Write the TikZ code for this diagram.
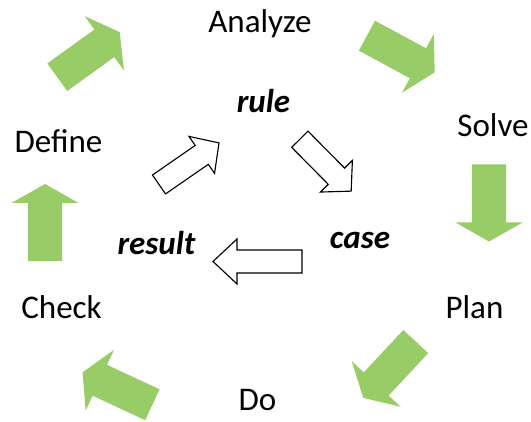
\documentclass[tikz,border=0pt]{standalone}
\usepackage{fontspec}
\setmainfont{Carlito}
\definecolor{cyclegreen}{RGB}{152, 204, 102}

% block arrow: length / shaft width / head width / head length
\tikzset{
    pics/blockarrow/.style n args={4}{code={
        \path[pic actions] (-#1/2,-#2/2) -- (#1/2-#4,-#2/2) -- (#1/2-#4,-#3/2) -- (#1/2,0)
            -- (#1/2-#4,#3/2) -- (#1/2-#4,#2/2) -- (-#1/2,#2/2) -- cycle;
    }}
}

\begin{document}
\begin{tikzpicture}[
        x=0.025cm, y=0.025cm,
        stage/.style={inner sep=0pt, anchor=base, font=\fontsize{23.5}{28}\selectfont},
        term/.style={inner sep=0pt, anchor=base, font=\fontsize{23.5}{28}\selectfont\bfseries\itshape},
        cyclearrow/.style={fill=cyclegreen},
        logicarrow/.style={draw=black, fill=white, line width=0.8pt, line join=miter}
    ]
        \useasboundingbox (0,0) rectangle (531,421);

        % Outer cycle: stages
        \node[stage] (analyze) at (260,388) {Analyze};
        \node[stage] (solve) at (493,284) {Solve};
        \node[stage] (plan) at (474.5,103) {Plan};
        \node[stage] (do) at (257.5,11) {Do};
        \node[stage] (check) at (61.5,103) {Check};
        \node[stage] (define) at (58.5,268) {Define};

        % Outer cycle: green arrows
        \pic[cyclearrow, rotate=35.8] at (88.5,366.3) {blockarrow={77}{34}{67}{19}};
        \pic[cyclearrow, rotate=-28.4] at (400.8,367) {blockarrow={77}{34}{67}{19}};
        \pic[cyclearrow, rotate=-90] at (489,218) {blockarrow={77}{34}{67}{19}};
        \pic[cyclearrow, rotate=-133] at (389.5,51.3) {blockarrow={77}{34}{67}{19}};
        \pic[cyclearrow, rotate=155] at (117.5,32.5) {blockarrow={77}{34}{67}{19}};
        \pic[cyclearrow, rotate=90] at (45,198.5) {blockarrow={77}{34}{67}{19}};

        % Inner cycle: rule, case, result
        \node[term] (rule) at (263.5,308) {rule};
        \node[term] (case) at (360,173) {case};
        \node[term] (result) at (156.5,166) {result};

        \pic[logicarrow, rotate=34.7] at (189,257.3) {blockarrow={73}{23}{45}{21}};
        \pic[logicarrow, rotate=-45.3] at (325.5,255.8) {blockarrow={73}{23}{45}{21}};
        \pic[logicarrow, rotate=180] at (257.5,159.5) {blockarrow={89}{23}{45}{24}};
    \end{tikzpicture}
\end{document}
